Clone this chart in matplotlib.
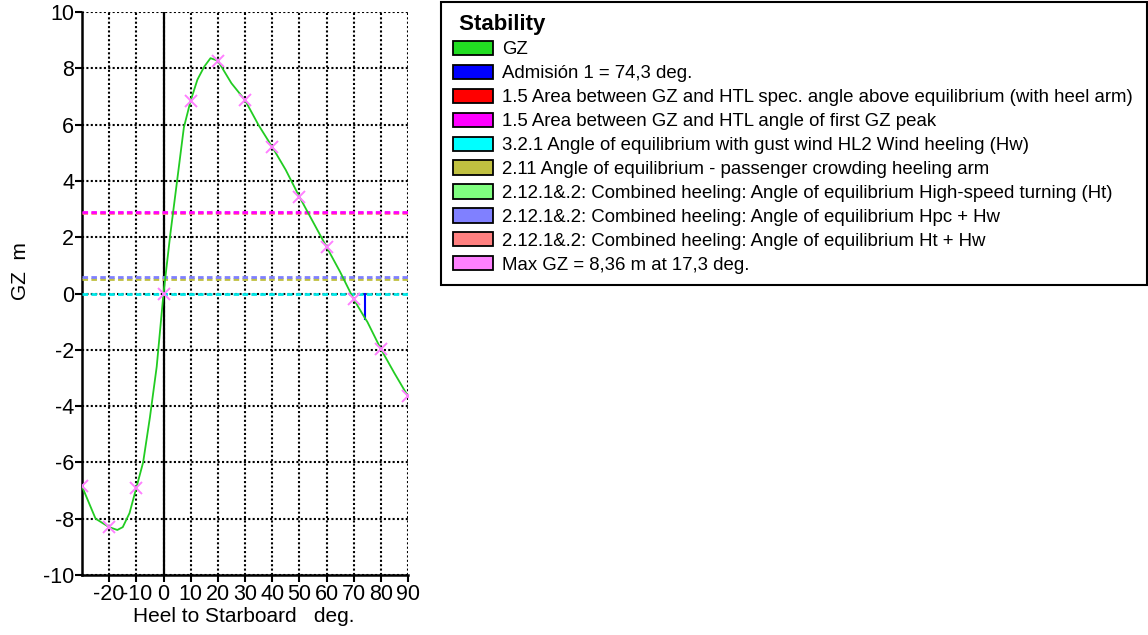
import numpy as np
import matplotlib
matplotlib.use("Agg")
from matplotlib import pyplot as plt
from matplotlib.patches import Patch

plt.rcParams['font.family'] = ['Liberation Sans', 'DejaVu Sans']
plt.rcParams['axes.unicode_minus'] = False

# GZ curve (deg, m)
heel = [-30, -25, -20, -17, -15, -12.5, -10, -7.5, -5, -2.5, 0, 2.5, 5, 7.5, 10, 12.5, 15, 17.3,
        20, 25, 30, 35, 40, 45, 50, 55, 60, 65, 70, 74.3, 75, 80, 85, 90]
gz = [-6.85, -8.0, -8.3, -8.4, -8.3, -7.8, -6.9, -6.0, -4.4, -2.6, 0.0, 2.1, 4.0, 5.9, 6.85, 7.6, 8.06, 8.36,
      8.27, 7.47, 6.87, 5.98, 5.21, 4.39, 3.44, 2.55, 1.66, 0.77, -0.2, -0.9, -1.0, -1.97, -2.83, -3.65]

# pink cross markers every 10 deg
mark_heel = [-30, -20, -10, 0, 10, 20, 30, 40, 50, 60, 70, 80, 90]
mark_gz = [-6.85, -8.3, -6.9, 0.0, 6.85, 8.27, 6.87, 5.21, 3.44, 1.66, -0.2, -1.97, -3.65]

# horizontal heeling-arm lines (value, colour), drawn bottom to top
arm_levels = [2.85, 2.90, 0.50, 0.57, 0.0]
arm_colors = ['#ff8080', '#ff00ff', '#c0c040', '#8080ff', '#00e8e8']

admission_angle = 74.3
admission_gz = -0.9

legend_labels = ['GZ',
                 'Admisión 1 = 74,3 deg.',
                 '1.5 Area between GZ and HTL spec. angle above equilibrium (with heel arm)',
                 '1.5 Area between GZ and HTL angle of first GZ peak',
                 '3.2.1 Angle of equilibrium with gust wind HL2 Wind heeling (Hw)',
                 '2.11 Angle of equilibrium - passenger crowding heeling arm',
                 '2.12.1&.2: Combined heeling: Angle of equilibrium High-speed turning (Ht)',
                 '2.12.1&.2: Combined heeling: Angle of equilibrium Hpc + Hw',
                 '2.12.1&.2: Combined heeling: Angle of equilibrium Ht + Hw',
                 'Max GZ = 8,36 m at 17,3 deg.']
legend_colors = ['#22dd22', '#0000ff', '#ff0000', '#ff00ff', '#00ffff',
                 '#c0c040', '#80ff80', '#8080ff', '#ff8080', '#ff80ff']

W, H = 1148, 635
fig = plt.figure(figsize=(W / 100, H / 100), dpi=100)
ax = fig.add_axes([82 / W, 60 / H, 326 / W, 563 / H])

ax.set_xlim(-30, 90)
ax.set_ylim(-10, 10)
ax.set_xticks(np.arange(-20, 91, 10))
ax.set_yticks(np.arange(-10, 11, 2))
ax.grid(True, color='black', linestyle=(0, (1, 1.1)), linewidth=1.5)
ax.set_axisbelow(True)
for s in ['top', 'right']:
    ax.spines[s].set_visible(False)
for s in ['left', 'bottom']:
    ax.spines[s].set_linewidth(1.8)
ax.tick_params(axis='both', labelsize=15.5, width=1.5, length=5, direction='out')
ax.tick_params(axis='y', pad=0.5)
ax.tick_params(axis='x', pad=1.5)

# vertical line at zero heel
ax.axvline(0, color='black', linewidth=1.6, zorder=2)

for lev, col in zip(arm_levels, arm_colors):
    ax.axhline(lev, color=col, linestyle=(0, (2.0, 1.2)), linewidth=2.0, zorder=3)

ax.plot([admission_angle, admission_angle], [0, admission_gz], color='#0000ff', linewidth=1.5, zorder=4)
ax.plot(heel, gz, color='#22cc22', linewidth=1.3, zorder=5)
ax.plot(mark_heel, mark_gz, linestyle='none', marker='x', markersize=9, markeredgewidth=1.4,
        color='#ff80ff', zorder=6, clip_on=True)

fig.text(244 / W, 1 - 617 / H, 'Heel to Starboard   deg.', fontsize=15, ha='center', va='center')
fig.text(20 / W, 1 - 271 / H, 'GZ  m', fontsize=15, ha='center', va='center', rotation=90)

handles = [Patch(facecolor=c, edgecolor='black', linewidth=1.3) for c in legend_colors]
leg = fig.legend(handles, legend_labels, loc='upper left',
                 bbox_to_anchor=(441 / W, 1 - 2 / H, 706 / W, 0), mode='expand',
                 fontsize=13.4, title=' Stability', title_fontproperties={'weight': 'bold', 'size': 16},
                 alignment='left', handlelength=2.2, handleheight=0.8, handletextpad=0.48,
                 labelspacing=0.34, borderpad=0.62, borderaxespad=0, fancybox=False, framealpha=1)
leg.get_frame().set_edgecolor('black')
leg.get_frame().set_linewidth(1.5)

fig.savefig('out.png', dpi=100)
